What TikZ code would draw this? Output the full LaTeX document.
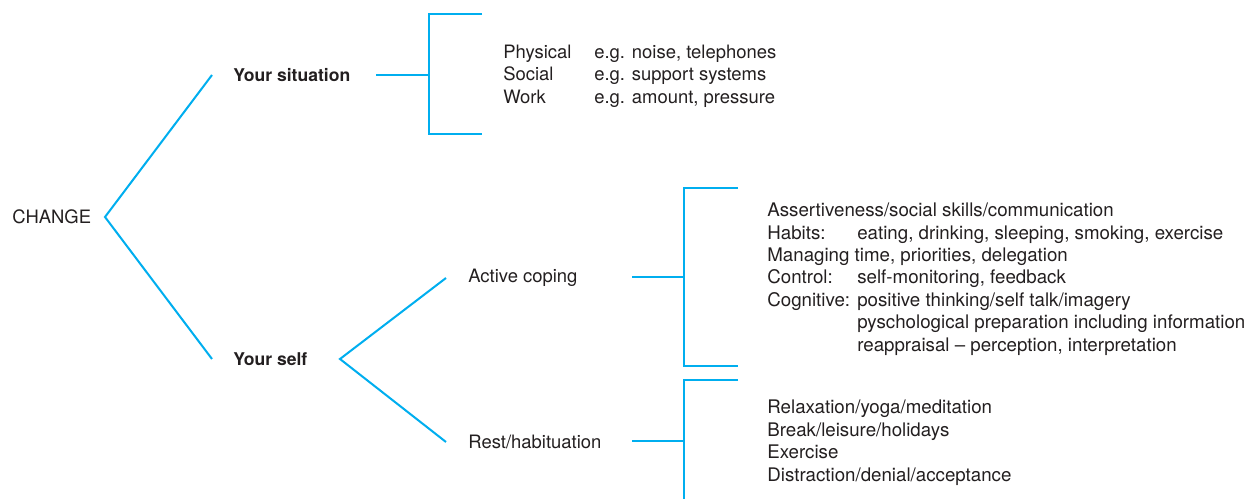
\documentclass[tikz,border=0pt]{standalone}
\usepackage{fontspec}
\setmainfont{TeX Gyre Heros}
\definecolor{branchcyan}{RGB}{0,174,239}
\definecolor{inkgrey}{RGB}{35,31,32}

\begin{document}
\begin{tikzpicture}[x=0.02cm,y=-0.02cm,
	line/.style={draw=branchcyan,line width=1.15pt},
	lbl/.style={anchor=west,inner sep=0,text=inkgrey,font=\fontsize{10.5}{12.8}\selectfont},
	head/.style={lbl,inner xsep=0.42cm,font=\fontsize{10}{12}\selectfont\bfseries},
	twig/.style={lbl,inner xsep=0.44cm},
	wide/.style={lbl,font=\fontsize{10.65}{12.8}\selectfont}]
	\useasboundingbox (0,0) rectangle (1259,499);
	% tree labels
	\node[lbl] (change) at (12,217) {CHANGE};
	\node[head] (sit) at (212,75) {Your situation};
	\node[head] (self) at (212,359) {Your self};
	\node[twig] (active) at (446,278) {Active coping};
	\node[twig] (rest) at (446,442) {Rest/habituation};
	% lists
	\node[lbl] (sitlist) at (503,76.5) {\begin{tabular}{@{}p{1.82cm}@{}l@{}}
		Physical & e.g. noise, telephones\\
		Social & e.g. support systems\\
		Work & e.g. amount, pressure
	\end{tabular}};
	\node[wide] (activelist) at (767,279.5) {\begin{tabular}{@{}p{1.8cm}@{}l@{}}
		\multicolumn{2}{@{}l@{}}{Assertiveness/social skills/communication}\\
		Habits: & eating, drinking, sleeping, smoking, exercise\\
		\multicolumn{2}{@{}l@{}}{Managing time, priorities, delegation}\\
		Control: & self-monitoring, feedback\\
		Cognitive: & positive thinking/self talk/imagery\\
		& pyschological preparation including information\\
		& reappraisal -- perception, interpretation
	\end{tabular}};
	\node[wide] (restlist) at (767,443) {\begin{tabular}{@{}l@{}}
		Relaxation/yoga/meditation\\
		Break/leisure/holidays\\
		Exercise\\
		Distraction/denial/acceptance
	\end{tabular}};
	% fork points and brackets
	\coordinate (changefork) at (105,217);
	\coordinate (selffork) at (340,359);
	\coordinate (sitstem) at (376,75);
	\coordinate (sitjoin) at (429,75);
	\coordinate (sittop) at (482,14);
	\coordinate (sitbot) at (482,134);
	\coordinate (activestem) at (632,277);
	\coordinate (activejoin) at (684,277);
	\coordinate (activetop) at (738,188);
	\coordinate (activebot) at (738,366);
	\coordinate (reststem) at (632,441);
	\coordinate (restjoin) at (684,441);
	\coordinate (resttop) at (738,380);
	\coordinate (restbot) at (684,499);
	\draw[line] (sit.west) -- (changefork) -- (self.west);
	\draw[line] (active.west) -- (selffork) -- (rest.west);
	\draw[line] (sitstem) -- (sitjoin);
	\draw[line] (sittop) -- (sittop -| sitjoin) -- (sitbot -| sitjoin) -- (sitbot);
	\draw[line] (activestem) -- (activejoin);
	\draw[line] (activetop) -- (activetop -| activejoin) -- (activebot -| activejoin) -- (activebot);
	\draw[line] (reststem) -- (restjoin);
	\draw[line] (resttop) -- (resttop -| restjoin) -- (restbot);
\end{tikzpicture}
\end{document}
